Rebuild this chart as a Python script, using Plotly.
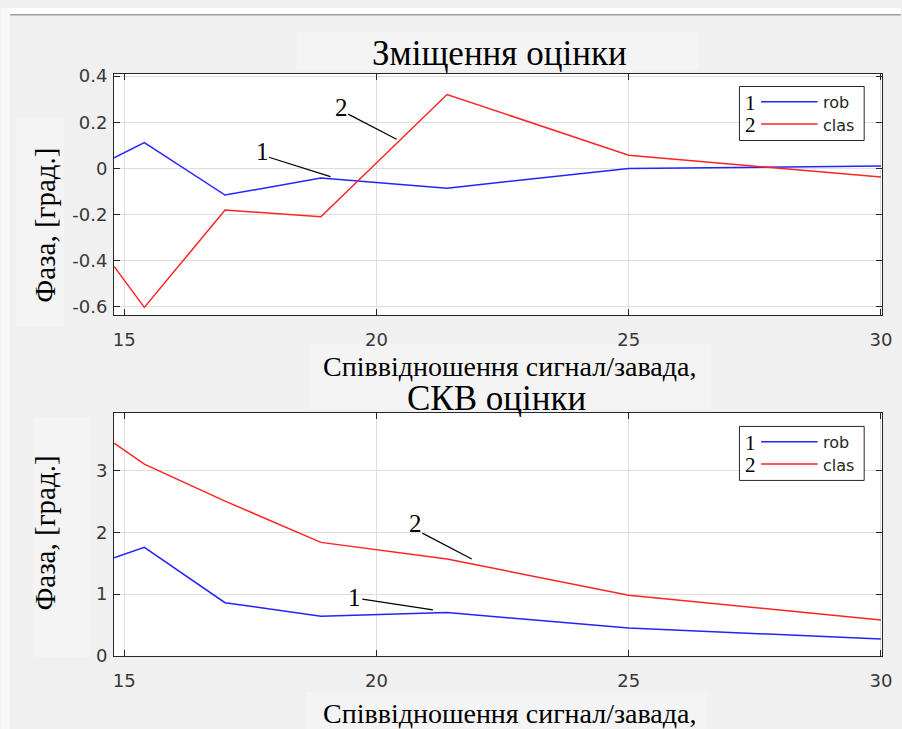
import plotly.graph_objects as go

# Signal-to-noise ratio values (x axis)
snr = [14.8, 15.4, 17.0, 18.9, 21.4, 25.0, 30.0]

# Bias of the phase estimate, degrees
bias_rob = [0.046, 0.112, -0.116, -0.042, -0.086, -0.001, 0.010]
bias_clas = [-0.425, -0.603, -0.181, -0.210, 0.320, 0.057, -0.038]

# RMS error of the phase estimate, degrees
std_rob = [1.59, 1.76, 0.86, 0.64, 0.70, 0.45, 0.27]
std_clas = [3.45, 3.11, 2.51, 1.84, 1.57, 0.98, 0.58]

x_ticks = [15, 20, 25, 30]
bias_ticks = [-0.6, -0.4, -0.2, 0, 0.2, 0.4]
bias_tick_text = ["-0.6", "-0.4", "-0.2", "0", "0.2", "0.4"]
std_ticks = [0, 1, 2, 3]
std_tick_text = ["0", "1", "2", "3"]

W, H = 911, 745
SX, SY, OY = 0.99, 0.976, 8.2   # layout grid -> screen pixels
BLUE = "rgb(35,35,255)"
RED = "rgb(255,35,35)"
AXC = "#262626"
GRID = "#dedede"
SERIF = "Liberation Serif"
SANS = "DejaVu Sans"


def px(x):
    """screen x (pixels) -> paper fraction"""
    return (x / SX) / W


def py(y):
    """screen y (pixels, from top) -> paper fraction"""
    return 1 - ((y - OY) / SY) / H


fig = go.Figure()

fig.add_trace(go.Scatter(x=snr, y=bias_rob, mode="lines", name="rob",
                         line=dict(color=BLUE, width=1.5), xaxis="x", yaxis="y"))
fig.add_trace(go.Scatter(x=snr, y=bias_clas, mode="lines", name="clas",
                         line=dict(color=RED, width=1.5), xaxis="x", yaxis="y"))
fig.add_trace(go.Scatter(x=snr, y=std_rob, mode="lines", name="rob",
                         line=dict(color=BLUE, width=1.5), xaxis="x2", yaxis="y2"))
fig.add_trace(go.Scatter(x=snr, y=std_clas, mode="lines", name="clas",
                         line=dict(color=RED, width=1.5), xaxis="x2", yaxis="y2"))

axis_common = dict(showline=True, linecolor=AXC, linewidth=1, mirror="ticks",
                   ticks="inside", ticklen=6, tickcolor=AXC, showgrid=True,
                   gridcolor=GRID, gridwidth=1, zeroline=False,
                   tickfont=dict(family=SANS, size=18, color="#383838"))

x_dom = [px(113.3), px(883.3)]
fig.update_layout(
    width=W, height=H,
    margin=dict(l=0, r=0, t=0, b=0),
    paper_bgcolor="#f0f0f0",
    plot_bgcolor="white",
    showlegend=False,
    xaxis=dict(domain=x_dom, range=[14.8, 30.03], tickvals=x_ticks,
               ticklabelstandoff=9, anchor="y", **axis_common),
    yaxis=dict(domain=[py(315), py(74)], range=[-0.635, 0.41],
               tickvals=bias_ticks, ticktext=bias_tick_text,
               ticklabelstandoff=2, anchor="x", **axis_common),
    xaxis2=dict(domain=x_dom, range=[14.8, 30.03], tickvals=x_ticks,
                ticklabelstandoff=9, anchor="y2", **axis_common),
    yaxis2=dict(domain=[py(656), py(413.3)], range=[0, 3.94],
                tickvals=std_ticks, ticktext=std_tick_text,
                ticklabelstandoff=2, anchor="x2", **axis_common),
)

shapes = []
# window strip along the top edge
shapes.append(dict(type="rect", xref="paper", yref="paper", x0=0, x1=1,
                   y0=py(15), y1=1, fillcolor="white", line_width=0, layer="below"))
shapes.append(dict(type="rect", xref="paper", yref="paper", x0=0, x1=px(9),
                   y0=0, y1=1, fillcolor="#f8f8f8", line_width=0, layer="below"))
shapes.append(dict(type="line", xref="paper", yref="paper", x0=px(9), x1=1,
                   y0=py(15), y1=py(15), line=dict(color="#a0a0a0", width=1.5)))

# faint text backgrounds
for (x0, y0, x1, y1) in [(296, 32, 699, 70), (15, 117, 63, 327),
                         (309, 344, 712, 410), (32, 417, 90, 657),
                         (305, 692, 708, 729)]:
    shapes.append(dict(type="rect", xref="paper", yref="paper",
                       x0=px(x0), x1=px(x1), y0=py(y1), y1=py(y0),
                       fillcolor="#f4f4f4", line_width=0, layer="below"))

annotations = []


def text(x, y, s, size, family=SERIF, color="black", xanchor="center",
         xref="paper", yref="paper", textangle=0):
    annotations.append(dict(x=x, y=y, xref=xref, yref=yref, text=s,
                            showarrow=False, xanchor=xanchor, yanchor="middle",
                            textangle=textangle, borderpad=0,
                            font=dict(family=family, size=size, color=color)))


# panel titles and axis titles
text(px(500), py(53.5), "Зміщення оцінки", 35)
text(px(510), py(366.5), "Співвідношення сигнал/завада,", 28)
text(px(497), py(398.5), "СКВ оцінки", 35)
text(px(510), py(713.5), "Співвідношення сигнал/завада,", 28)
text(px(44), py(225), "Фаза, [град.]", 29, textangle=-90)
text(px(44), py(533), "Фаза, [град.]", 29, textangle=-90)

# legends drawn inside each panel
for dy in (0, 340):
    shapes.append(dict(type="rect", xref="paper", yref="paper",
                       x0=px(740), x1=px(865), y0=py(140.7 + dy), y1=py(86.7 + dy),
                       fillcolor="white", line=dict(color=AXC, width=1)))
    for row_y, num, lab, col in ((102 + dy, "1", "rob", BLUE),
                                 (124.3 + dy, "2", "clas", RED)):
        shapes.append(dict(type="line", xref="paper", yref="paper",
                           x0=px(761.7), x1=px(818.3), y0=py(row_y), y1=py(row_y),
                           line=dict(color=col, width=1.5)))
        text(px(751), py(row_y + 1), num, 21)
        text(px(823), py(row_y + 1), lab, 16, family=SANS, color="#262626",
             xanchor="left")

# curve labels with leader lines
leaders = [
    ("x", "y", (17.74, 0.075), "1", (17.87, 0.048), (19.09, -0.036)),
    ("x", "y", (19.30, 0.264), "2", (19.44, 0.235), (20.40, 0.126)),
    ("x2", "y2", (19.57, 0.945), "1", (19.72, 0.917), (21.12, 0.743)),
    ("x2", "y2", (20.78, 2.15), "2", (20.91, 1.99), (21.89, 1.57)),
]
for xr, yr, (tx, ty), s, (x0, y0), (x1, y1) in leaders:
    text(tx, ty, s, 25, xref=xr, yref=yr)
    shapes.append(dict(type="line", xref=xr, yref=yr, x0=x0, y0=y0, x1=x1, y1=y1,
                       line=dict(color="black", width=1.2)))

fig.update_layout(shapes=shapes, annotations=annotations)
fig.write_html("out.html")
